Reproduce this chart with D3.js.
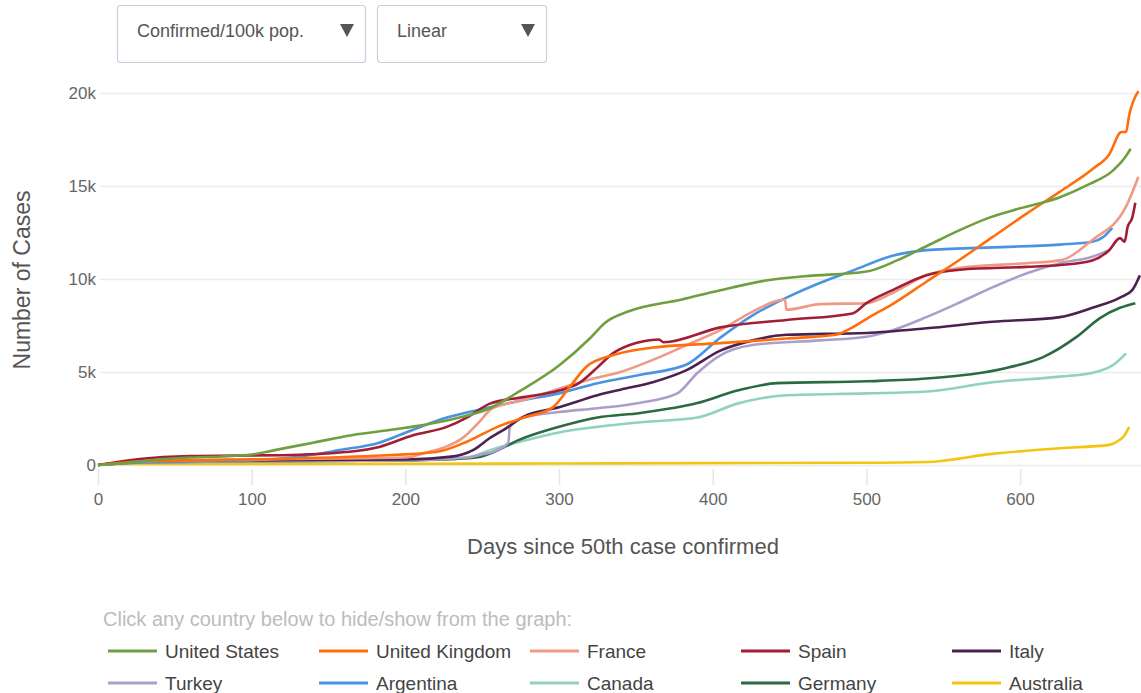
<!DOCTYPE html>
<html>
<head>
<meta charset="utf-8">
<script src="https://cdn.jsdelivr.net/npm/d3@7/dist/d3.min.js"></script>
<style>
  body { margin: 0; background: #fff; }
  svg { font-family: "Liberation Sans", Arial, sans-serif; display: block; }
  .grid line { stroke: #ebebeb; stroke-width: 1.5; }
  .grid text { fill: #666; font-size: 17px; }
  .xaxis line { stroke: #e6e6e6; stroke-width: 1.5; }
  .xaxis text { fill: #666; font-size: 17px; }
</style>
</head>
<body>
<svg id="chart" width="1141" height="693"></svg>
<script>
// data: cases per 100k population, [day since 50th case, value]
const countries = ["United States", "United Kingdom", "France", "Spain", "Italy",
                   "Turkey", "Argentina", "Canada", "Germany", "Australia"];
const colors = ["#6f9f3f", "#ff6e0a", "#ef9a85", "#a31d35", "#4b2150",
                "#ab9fc9", "#4a93e3", "#8ed2bf", "#2a6b44", "#f4c510"];

const unitedStates = [[0,0],[20,120],[40,300],[60,400],[80,460],[100,560],[115,800],[140,1200],
  [165,1600],[200,2000],[230,2450],[255,3050],[275,4000],[300,5350],[320,6800],[330,7650],
  [345,8250],[380,8900],[405,9400],[437,9950],[460,10150],[500,10400],[520,11000],[540,11800],
  [560,12600],[580,13300],[600,13800],[626,14400],[645,15100],[660,15800],[668,16500],[672,17000]];
const unitedKingdom = [[0,0],[30,200],[100,300],[180,500],[220,700],[240,1250],[260,2050],
  [277,2550],[296,3100],[307,4200],[318,5300],[335,5900],[360,6300],[405,6550],[448,6800],
  [480,7000],[491,7400],[502,7950],[517,8650],[539,9850],[561,11050],[582,12250],[604,13500],
  [626,14700],[647,15900],[658,16700],[666,17900],[669,17900],[671,18800],[677,20100]];
const france = [[0,0],[30,200],[100,300],[200,400],[215,700],[227,1000],[238,1500],[249,2400],
  [255,2950],[264,3250],[277,3500],[300,4100],[320,4600],[340,5000],[361,5650],[383,6450],
  [405,7250],[426,8250],[447,8900],[448,8350],[470,8650],[500,8700],[517,9250],[539,10200],
  [561,10600],[604,10850],[626,11000],[647,12100],[669,13900],[677,15500]];
const spain = [[0,0],[27,320],[60,480],[125,540],[168,750],[183,970],[205,1600],[227,2050],
  [240,2550],[255,3300],[277,3650],[300,4000],[313,4400],[325,5250],[335,6000],[346,6450],
  [355,6650],[365,6750],[368,6600],[405,7400],[448,7800],[491,8150],[500,8700],[517,9400],
  [539,10200],[561,10500],[604,10650],[626,10750],[647,11000],[658,11550],[665,12200],
  [668,12000],[670,12800],[673,13300],[675,14100]];
const italy = [[0,0],[30,200],[100,250],[200,300],[230,450],[244,800],[255,1450],[266,2000],
  [277,2600],[300,3100],[325,3750],[340,4050],[361,4450],[383,5100],[405,6150],[426,6700],
  [448,7000],[500,7100],[539,7350],[582,7700],[626,7950],[647,8450],[665,9000],[673,9400],[678,10200]];
const turkey = [[0,0],[30,150],[100,200],[200,250],[240,400],[249,550],[260,800],[267,1200],
  [268,2050],[277,2550],[300,2850],[325,3050],[353,3350],[377,3850],[390,4950],[405,5900],
  [426,6450],[470,6700],[500,6900],[517,7250],[539,7950],[561,8750],[582,9550],[604,10300],
  [626,10850],[647,11200],[658,11550]];
const argentina = [[0,0],[30,150],[100,250],[129,430],[157,800],[183,1200],[205,1900],[227,2550],
  [255,3100],[277,3500],[300,3850],[325,4400],[353,4850],[383,5400],[405,6850],[426,8050],
  [448,9000],[470,9800],[491,10450],[517,11250],[539,11550],[582,11700],[626,11850],[647,12000],
  [654,12250],[660,12750]];
const canada = [[0,0],[30,120],[100,200],[200,250],[240,400],[255,800],[277,1300],[300,1750],
  [325,2050],[353,2300],[390,2550],[416,3300],[448,3750],[500,3850],[539,3950],[582,4450],
  [626,4750],[647,4950],[661,5400],[669,6000]];
const germany = [[0,0],[30,150],[100,200],[200,250],[238,350],[249,450],[277,1450],[300,2050],
  [325,2550],[353,2800],[390,3330],[416,4000],[442,4400],[500,4500],[539,4650],[593,5250],
  [615,5800],[637,6900],[652,7900],[665,8450],[675,8700]];
const australia = [[0,0],[20,50],[100,60],[300,80],[500,120],[539,160],[582,600],[626,900],
  [658,1080],[664,1300],[668,1600],[671,2050]];

const series = [unitedStates, unitedKingdom, france, spain, italy,
                turkey, argentina, canada, germany, australia];

const yTicks = [0, 5000, 10000, 15000, 20000];
const xTicks = [0, 100, 200, 300, 400, 500, 600];

const svg = d3.select("#chart");
const x = d3.scaleLinear().domain([0, 680]).range([98, 1143]);
const y = d3.scaleLinear().domain([0, 20000]).range([465, 93]);

// dropdown controls
function dropdown(x0, w, label) {
  const g = svg.append("g");
  g.append("rect").attr("x", x0 + 0.5).attr("y", 5.5).attr("width", w).attr("height", 57)
    .attr("rx", 3).attr("fill", "#fff").attr("stroke", "#c9cfdc").attr("stroke-width", 1.2);
  g.append("text").attr("x", x0 + 20).attr("y", 37).attr("font-size", 18)
    .attr("fill", "#555").text(label);
  g.append("path")
    .attr("d", `M${x0 + w - 25},24 L${x0 + w - 11},24 L${x0 + w - 18},37 Z`)
    .attr("fill", "#555");
}
dropdown(117, 248, "Confirmed/100k pop.");
dropdown(377, 169, "Linear");

// y grid + labels
svg.append("g").attr("class", "grid")
  .attr("transform", "translate(98,0)")
  .call(d3.axisLeft(y).tickValues(yTicks)
    .tickFormat(d => d === 0 ? "0" : (d / 1000) + "k")
    .tickSize(-1045).tickPadding(2))
  .call(g => g.select(".domain").remove())
  .call(g => g.selectAll("line").attr("x1", 2));

// x ticks + labels
svg.append("g").attr("class", "xaxis")
  .attr("transform", "translate(0,469)")
  .call(d3.axisBottom(x).tickValues(xTicks).tickSize(16).tickPadding(8))
  .call(g => g.select(".domain").remove());

// axis titles
svg.append("text").attr("x", 623).attr("y", 554).attr("text-anchor", "middle")
  .attr("font-size", 22).attr("fill", "#555").text("Days since 50th case confirmed");
svg.append("text").attr("transform", "translate(30,280) rotate(-90)")
  .attr("text-anchor", "middle").attr("font-size", 23).attr("fill", "#555")
  .text("Number of Cases");

// lines, drawn bottom-up so the legend order ends on top
const line = d3.line().x(d => x(d[0])).y(d => y(d[1])).curve(d3.curveMonotoneX);
const order = [9, 7, 8, 5, 4, 6, 2, 3, 1, 0];
svg.append("g").selectAll("path")
  .data(order)
  .join("path")
  .attr("d", i => line(series[i]))
  .attr("fill", "none")
  .attr("stroke", i => colors[i])
  .attr("stroke-width", 2.6)
  .attr("stroke-linejoin", "round");

// legend
svg.append("text").attr("x", 103).attr("y", 626).attr("font-size", 20)
  .attr("fill", "#bcbcbc").text("Click any country below to hide/show from the graph:");
const item = svg.append("g").selectAll("g")
  .data(countries)
  .join("g")
  .attr("transform", (d, i) => `translate(${108 + (i % 5) * 211},${651 + Math.floor(i / 5) * 32})`);
item.append("line").attr("x1", 0).attr("x2", 49)
  .attr("stroke", (d, i) => colors[i]).attr("stroke-width", 3);
item.append("text").attr("x", 57).attr("y", 7).attr("font-size", 19)
  .attr("fill", "#444").text(d => d);
</script>
</body>
</html>
